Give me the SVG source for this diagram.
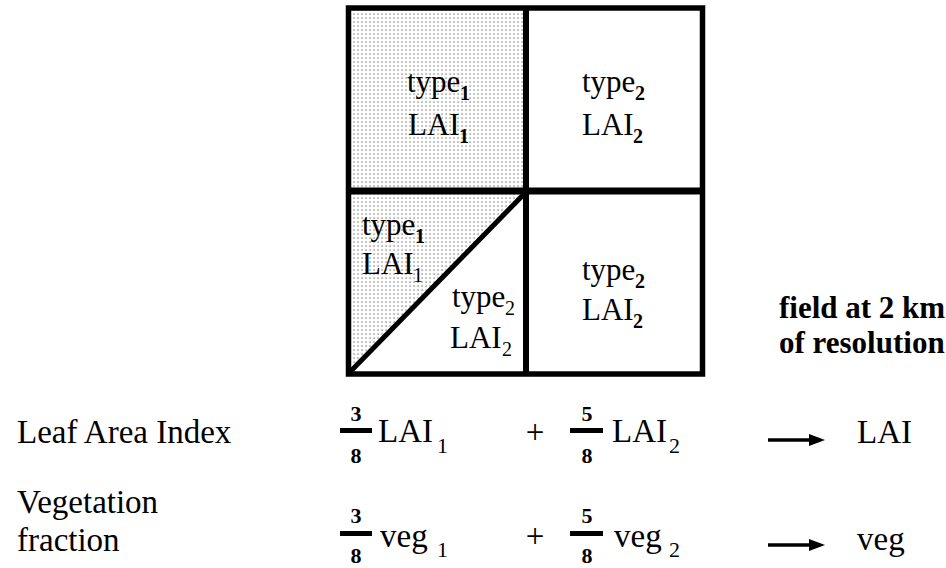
<svg xmlns="http://www.w3.org/2000/svg" width="946" height="568" viewBox="0 0 946 568">
<style>
text{font-family:"Liberation Serif","Times New Roman",serif;fill:#000}
.cell{font-size:31px}
.sb{font-size:20px;font-weight:bold}
.sr{font-size:20px}
.row{font-size:33px}
.rs{font-size:22px}
.num{font-size:22px;font-weight:bold;text-anchor:middle}
.lbl{font-size:31px;font-weight:bold}
.frame{fill:none;stroke:#000}
.bar{fill:#000}
.arrow{stroke:#000;stroke-width:3.5}
</style>
<defs>
<pattern id="dots" width="4" height="4" patternUnits="userSpaceOnUse">
<rect width="4" height="4" fill="#fff"/>
<rect x="1.5" y="1.5" width="1.1" height="1.1" fill="#444"/>
</pattern>
<marker id="ah" markerUnits="userSpaceOnUse" markerWidth="16" markerHeight="12" refX="0" refY="6" orient="auto">
<path d="M0,0 L16,6 L0,12 Z" fill="#000"/>
</marker>
</defs>

<g id="grid">
<rect x="348.5" y="8" width="177.5" height="183" fill="url(#dots)"/>
<polygon points="348.5,191 526,191 348.5,374" fill="url(#dots)"/>
<rect class="frame" x="348.5" y="8" width="354" height="366" stroke-width="5.5"/>
<line class="frame" x1="526" y1="8" x2="526" y2="374" stroke-width="6"/>
<line class="frame" x1="348" y1="191" x2="703" y2="191" stroke-width="7"/>
<line class="frame" x1="349" y1="373" x2="526" y2="192" stroke-width="5"/>
</g>

<g id="cell-top-left">
<text class="cell" x="407" y="92">type</text><text class="sb" x="460" y="100">1</text>
<text class="cell" x="408" y="135">LAI</text><text class="sb" x="459" y="143">1</text>
</g>
<g id="cell-top-right">
<text class="cell" x="582" y="92">type</text><text class="sb" x="635" y="100">2</text>
<text class="cell" x="582" y="135">LAI</text><text class="sb" x="633" y="143">2</text>
</g>
<g id="cell-bottom-left-type1">
<text class="cell" x="362" y="235">type</text><text class="sb" x="415" y="243">1</text>
<text class="cell" x="362" y="274">LAI</text><text class="sr" x="413" y="282">1</text>
</g>
<g id="cell-bottom-left-type2">
<text class="cell" x="452" y="307">type</text><text class="sr" x="505" y="315">2</text>
<text class="cell" x="450" y="348">LAI</text><text class="sr" x="502" y="356">2</text>
</g>
<g id="cell-bottom-right">
<text class="cell" x="582" y="280">type</text><text class="sb" x="635" y="288">2</text>
<text class="cell" x="582" y="320">LAI</text><text class="sb" x="633" y="328">2</text>
</g>

<g id="label-field">
<text class="lbl" x="779" y="318">field at 2 km</text>
<text class="lbl" x="779" y="353">of resolution</text>
</g>

<g id="row-lai">
<text class="row" x="17" y="443">Leaf Area Index</text>
<text class="num" x="356" y="421">3</text><rect class="bar" x="340" y="428" width="32" height="5"/><text class="num" x="356" y="463">8</text>
<text class="row" x="378" y="442">LAI</text><text class="rs" x="437" y="453">1</text>
<text class="row" x="535" y="443" text-anchor="middle">+</text>
<text class="num" x="587" y="421">5</text><rect class="bar" x="570" y="428" width="33" height="5"/><text class="num" x="587" y="463">8</text>
<text class="row" x="612" y="442">LAI</text><text class="rs" x="669" y="453">2</text>
<text class="row" x="857" y="443">LAI</text>
</g>

<g id="row-veg">
<text class="row" x="17" y="513">Vegetation</text>
<text class="row" x="17" y="551">fraction</text>
<text class="num" x="356" y="523">3</text><rect class="bar" x="340" y="531" width="32" height="5"/><text class="num" x="356" y="563">8</text>
<text class="row" x="380" y="547">veg</text><text class="rs" x="437" y="557">1</text>
<text class="row" x="535" y="547" text-anchor="middle">+</text>
<text class="num" x="587" y="523">5</text><rect class="bar" x="570" y="531" width="33" height="5"/><text class="num" x="587" y="563">8</text>
<text class="row" x="614" y="547">veg</text><text class="rs" x="669" y="557">2</text>
<text class="row" x="857" y="550">veg</text>
</g>

<g id="connectors">
<line class="arrow" x1="768" y1="440" x2="809" y2="440" marker-end="url(#ah)"/>
<line class="arrow" x1="768" y1="545" x2="809" y2="545" marker-end="url(#ah)"/>
</g>
</svg>
